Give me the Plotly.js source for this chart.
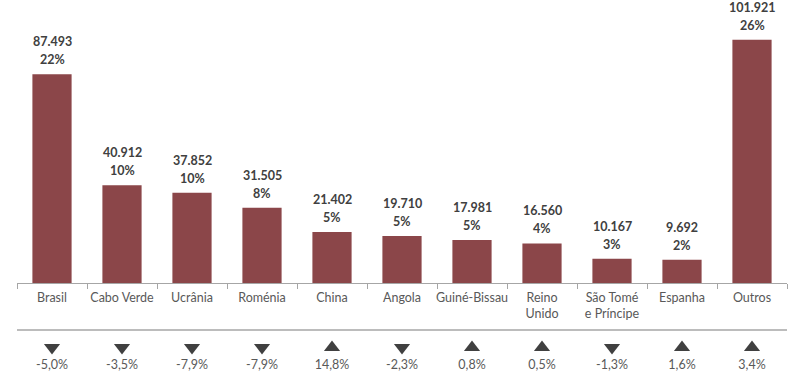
<!DOCTYPE html>
<html><head><meta charset="utf-8">
<script src="https://cdn.plot.ly/plotly-3.0.1.min.js"></script>
<style>body{margin:0;background:#fff}#c{width:800px;height:390px}</style>
</head><body><div id="c"></div>
<script>
const categories = ["Brasil","Cabo Verde","Ucrânia","Roménia","China","Angola","Guiné-Bissau","Reino<br>Unido","São Tomé<br>e Príncipe","Espanha","Outros"];
const values = [87493,40912,37852,31505,21402,19710,17981,16560,10167,9692,101921];
const valueLabels = ["87.493","40.912","37.852","31.505","21.402","19.710","17.981","16.560","10.167","9.692","101.921"];
const shares = ["22%","10%","10%","8%","5%","5%","5%","4%","3%","2%","26%"];
const changes = [-5.0,-3.5,-7.9,-7.9,14.8,-2.3,0.8,0.5,-1.3,1.6,3.4];
const changeLabels = ["-5,0%","-3,5%","-7,9%","-7,9%","14,8%","-2,3%","0,8%","0,5%","-1,3%","1,6%","3,4%"];

const barColor = "#8b4649";
const dark = "#404040";
const grey = "#595959";
const font = "Lato, 'Open Sans', sans-serif";

const traces = [
  {type:"bar", x:categories, y:values, marker:{color:barColor}, width:0.56, hoverinfo:"skip", xaxis:"x", yaxis:"y"},
  {type:"scatter", mode:"markers", x:categories, y:changes.map(()=>0.71),
   marker:{symbol:changes.map(c=>c>=0?"triangle-up":"triangle-down"), size:14, color:dark},
   xaxis:"x2", yaxis:"y2", hoverinfo:"skip"},
  {type:"scatter", mode:"text", x:categories, y:changes.map(()=>0.40), text:changeLabels,
   textfont:{family:font, size:12.5, color:grey}, textposition:"middle center",
   xaxis:"x2", yaxis:"y2", hoverinfo:"skip"}
];

const annotations = [];
categories.forEach((c,i)=>{
  annotations.push({x:c, y:values[i], xref:"x", yref:"y", text:"<b>"+shares[i]+"</b>",
    showarrow:false, yanchor:"bottom", yshift:5, font:{family:font, size:12.5, color:dark}});
  annotations.push({x:c, y:values[i], xref:"x", yref:"y", text:"<b>"+valueLabels[i]+"</b>",
    showarrow:false, yanchor:"bottom", yshift:23, font:{family:font, size:12.5, color:dark}});
});

const layout = {
  width:800, height:390, showlegend:false,
  paper_bgcolor:"#fff", plot_bgcolor:"#fff",
  margin:{l:17, r:13, t:20, b:0},
  xaxis:{type:"category", domain:[0,1], anchor:"y", range:[-0.5,10.5], autorange:false,
    showline:true, linecolor:"#a6a6a6", linewidth:1,
    ticks:"outside", tickson:"boundaries", ticklen:5, tickcolor:"#a6a6a6", tickangle:0, automargin:false,
    ticklabelstandoff:3,
    tickfont:{family:font, size:12.5, color:grey}, showgrid:false, zeroline:false, fixedrange:true},
  yaxis:{domain:[0.2892,1], range:[0,110200], visible:false, showgrid:false, zeroline:false, automargin:false},
  xaxis2:{type:"category", domain:[0,1], anchor:"y2", range:[-0.5,10.5], autorange:false, visible:false, automargin:false},
  yaxis2:{domain:[0,0.1622], range:[0,1], visible:false, showgrid:false, zeroline:false, automargin:false},
  shapes:[{type:"line", xref:"paper", yref:"paper", x0:0, x1:1, y0:0.1622, y1:0.1622,
    line:{color:"#a6a6a6", width:1.5}}],
  annotations:annotations
};
Plotly.newPlot("c", traces, layout, {displayModeBar:false, staticPlot:true});
</script></body></html>
